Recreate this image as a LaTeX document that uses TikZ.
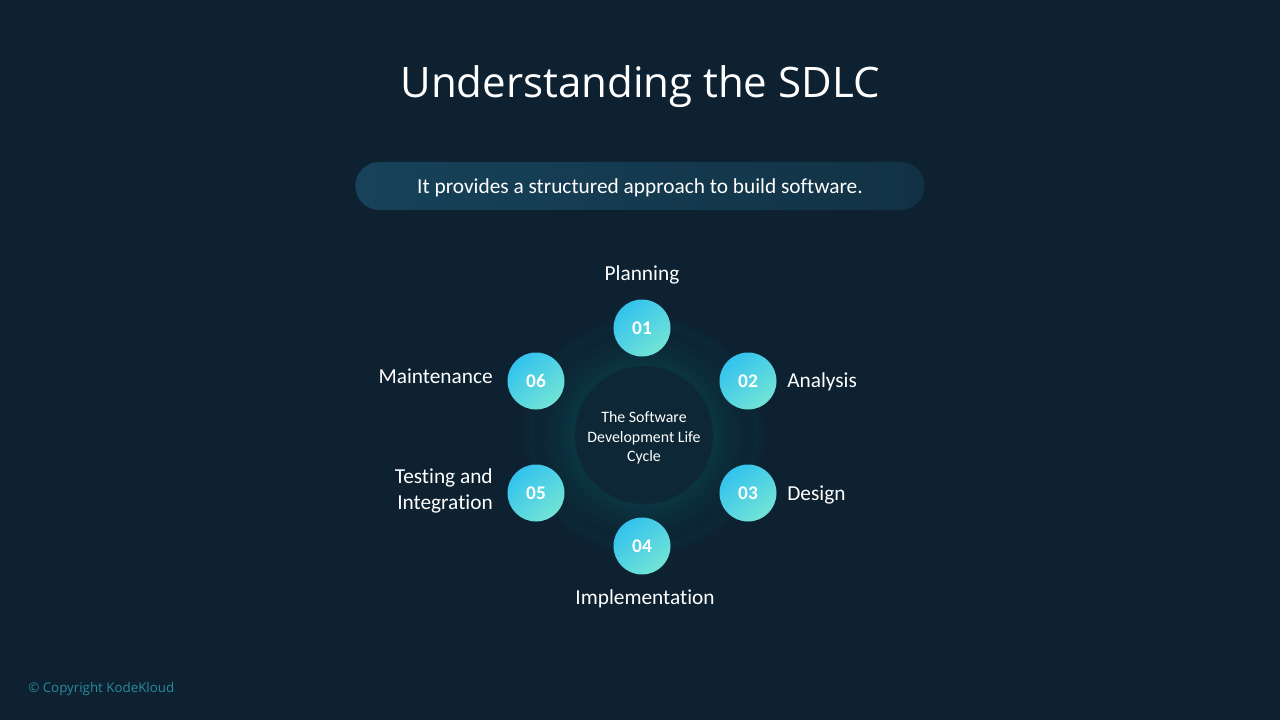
\documentclass[tikz,border=0pt]{standalone}
\usepackage{fontspec}
\setmainfont{Carlito}[Ligatures=NoCommon]
\newfontfamily\titlefont{Open Sans}
\definecolor{slidebg}{HTML}{0D2131}
\definecolor{hubfill}{HTML}{0E2736}
\definecolor{pillleft}{HTML}{17425A}
\definecolor{pillright}{HTML}{113244}
\definecolor{stepblue}{HTML}{33C2EE}
\definecolor{stepgreen}{HTML}{72E4D6}
\definecolor{footcolor}{HTML}{2A8A9C}
\pgfdeclareradialshading{hubglow}{\pgfpoint{0bp}{0bp}}{%
  color(0bp)=(slidebg!79!teal);
  color(14bp)=(slidebg!79!teal);
  color(18bp)=(slidebg!89!teal);
  color(21.5bp)=(slidebg!97!teal);
  color(23.2bp)=(slidebg!93!teal);
  color(25bp)=(slidebg);
  color(50bp)=(slidebg)}
\tikzset{
  stepdot/.style={circle,minimum size=42.75pt,inner sep=0pt,
    left color=stepblue,right color=stepgreen,shading angle=40,
    text=white,font=\fontsize{14.5}{14.5}\selectfont\bfseries},
  steplabel/.style={text=white,font=\fontsize{16}{19.5}\selectfont,inner sep=0pt},
}
\begin{document}
\begin{tikzpicture}[x=0.75pt,y=-0.75pt]
  \useasboundingbox (0,0) rectangle (1280,720);
  \fill[slidebg] (0,0) rectangle (1280,720);
  \node[text=white,inner sep=0pt,font=\titlefont\fontsize{31.5}{31.5}\selectfont] (title) at (640,87) {Understanding the SDLC};
  \node[rounded corners=18pt,minimum width=427pt,minimum height=36pt,inner sep=0pt,
    left color=pillleft,right color=pillright] (pill) at (640,186) {};
  \node[text=white,inner sep=0pt,font=\fontsize{16}{16}\selectfont] (subtitle) at (640,188) {It provides a structured approach to build software.};
  \node[circle,minimum size=183pt,inner sep=0pt,shading=hubglow] (glow) at (643,435) {};
  \node[circle,minimum size=103.5pt,inner sep=0pt,fill=hubfill] (hub) at (644,435) {};
  \node[text=white,align=center,inner sep=0pt,
    font=\fontsize{11.9}{14.6}\selectfont] (hubtext) at (644,438) {The Software\\Development Life\\Cycle};
  \draw
    (642,328) node[stepdot] (1){01}
    (748,381) node[stepdot] (2){02}
    (748,493) node[stepdot] (3){03}
    (642,546) node[stepdot] (4){04}
    (536,493) node[stepdot] (5){05}
    (536,381) node[stepdot] (6){06};
  \node[steplabel] (planning) at (642,275) {Planning};
  \node[steplabel,anchor=west] (analysis) at (787,382) {Analysis};
  \node[steplabel,anchor=west] (design) at (787,495) {Design};
  \node[steplabel] (implementation) at (645,599) {Implementation};
  \node[steplabel,anchor=east,align=right] (testing) at (493,491) {Testing and\\Integration};
  \node[steplabel,anchor=east] (maintenance) at (493,376) {Maintenance};
  \node[text=footcolor,inner sep=0pt,anchor=west,font=\titlefont\fontsize{10}{10}\selectfont] (copyright) at (28,689) {© Copyright KodeKloud};
\end{tikzpicture}
\end{document}
